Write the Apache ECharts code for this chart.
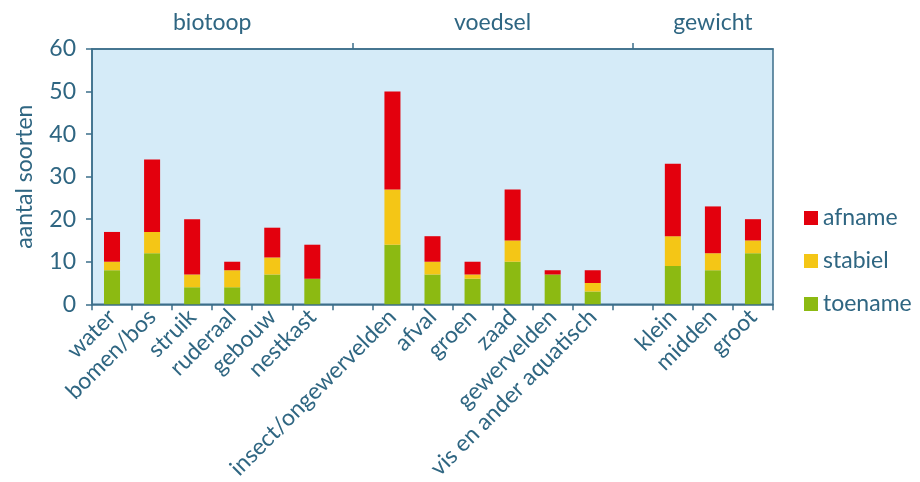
<!DOCTYPE html>
<html>
<head>
<meta charset="utf-8">
<script src="https://cdn.jsdelivr.net/npm/echarts@6/dist/echarts.min.js"></script>
<style>
  html, body { margin: 0; padding: 0; background: #fff; }
  #chart { width: 920px; height: 482px; }
</style>
</head>
<body>
<div id="chart"></div>
<script>
// '' marks an empty slot between the groups
const categories = [
  'water', 'bomen/bos', 'struik', 'ruderaal', 'gebouw', 'nestkast', '',
  'insect/ongewervelden', 'afval', 'groen', 'zaad', 'gewervelden', 'vis en ander aquatisch', '',
  'klein', 'midden', 'groot'
]
const toename = [8, 12, 4, 4, 7, 6, null, 14, 7, 6, 10, 7, 3, null, 9, 8, 12]
const stabiel = [2, 5, 3, 4, 4, 0, null, 13, 3, 1, 5, 0, 2, null, 7, 4, 3]
const afname  = [7, 17, 13, 2, 7, 8, null, 23, 6, 3, 12, 1, 3, null, 17, 11, 5]

const groupNames = ['biotoop', 'voedsel', 'gewicht']
const groupSizes = [6, 6, 3]

const TEXT = '#2f6682'
const LINE = '#3c6f8b'
const FONT = 'Lato'
const FS = 23

// group label positions and separators on a 0..N value axis on top
const groupCenters = []
const groupSeps = []
let start = 0
groupSizes.forEach((n, i) => {
  groupCenters.push(start + n / 2)
  if (i < groupSizes.length - 1) groupSeps.push(start + n + 0.5)
  start += n + 1
})

const chart = echarts.init(document.getElementById('chart'))

chart.setOption({
  animation: false,
  textStyle: { fontFamily: FONT, color: TEXT },
  grid: {
    left: 92, right: 147, top: 49, bottom: 176,
    show: true,
    backgroundColor: '#d5ebf8',
    borderColor: LINE,
    borderWidth: 1.5,
  },
  legend: {
    orient: 'vertical',
    left: 799,
    top: 201,
    itemWidth: 14,
    itemHeight: 14,
    itemGap: 19,
    icon: 'rect',
    data: ['afname', 'stabiel', 'toename'],
    textStyle: { fontFamily: FONT, fontSize: FS, lineHeight: 24, color: TEXT },
  },
  xAxis: [
    {
      type: 'category',
      data: categories,
      position: 'bottom',
      axisLine: { lineStyle: { color: LINE, width: 1.5 } },
      axisTick: { show: true, length: 6, lineStyle: { color: LINE, width: 1.5 } },
      axisLabel: {
        interval: 0,
        rotate: 45,
        fontSize: FS,
        color: TEXT,
        fontFamily: FONT,
        margin: 9,
      },
    },
    {
      type: 'value',
      position: 'top',
      min: 0,
      max: categories.length,
      splitLine: { show: false },
      axisLine: { show: true, lineStyle: { color: LINE, width: 1.5 } },
      axisTick: {
        show: true,
        length: 6,
        customValues: groupSeps,
        lineStyle: { color: LINE, width: 1.5 },
      },
      axisLabel: {
        customValues: groupCenters,
        fontSize: FS,
        color: TEXT,
        fontFamily: FONT,
        margin: 15,
        formatter: (v) => {
          const i = groupCenters.indexOf(v)
          return i >= 0 ? groupNames[i] : ''
        },
      },
    },
  ],
  yAxis: {
    type: 'value',
    min: 0,
    max: 60,
    interval: 10,
    name: 'aantal soorten',
    nameLocation: 'middle',
    nameGap: 56,
    nameTextStyle: { fontSize: FS, color: TEXT, fontFamily: FONT },
    splitLine: { show: false },
    axisLine: { show: true, lineStyle: { color: LINE, width: 1.5 } },
    axisTick: { show: true, length: 6, lineStyle: { color: LINE, width: 1.5 } },
    axisLabel: { fontSize: FS, color: TEXT, fontFamily: FONT, margin: 16 },
  },
  series: [
    { name: 'toename', type: 'bar', stack: 'a', data: toename, barWidth: '40%',
      itemStyle: { color: '#8cba12' } },
    { name: 'stabiel', type: 'bar', stack: 'a', data: stabiel, barWidth: '40%',
      itemStyle: { color: '#f4c616' } },
    { name: 'afname', type: 'bar', stack: 'a', data: afname, barWidth: '40%',
      itemStyle: { color: '#e3000d' } },
  ],
})
</script>
</body>
</html>
